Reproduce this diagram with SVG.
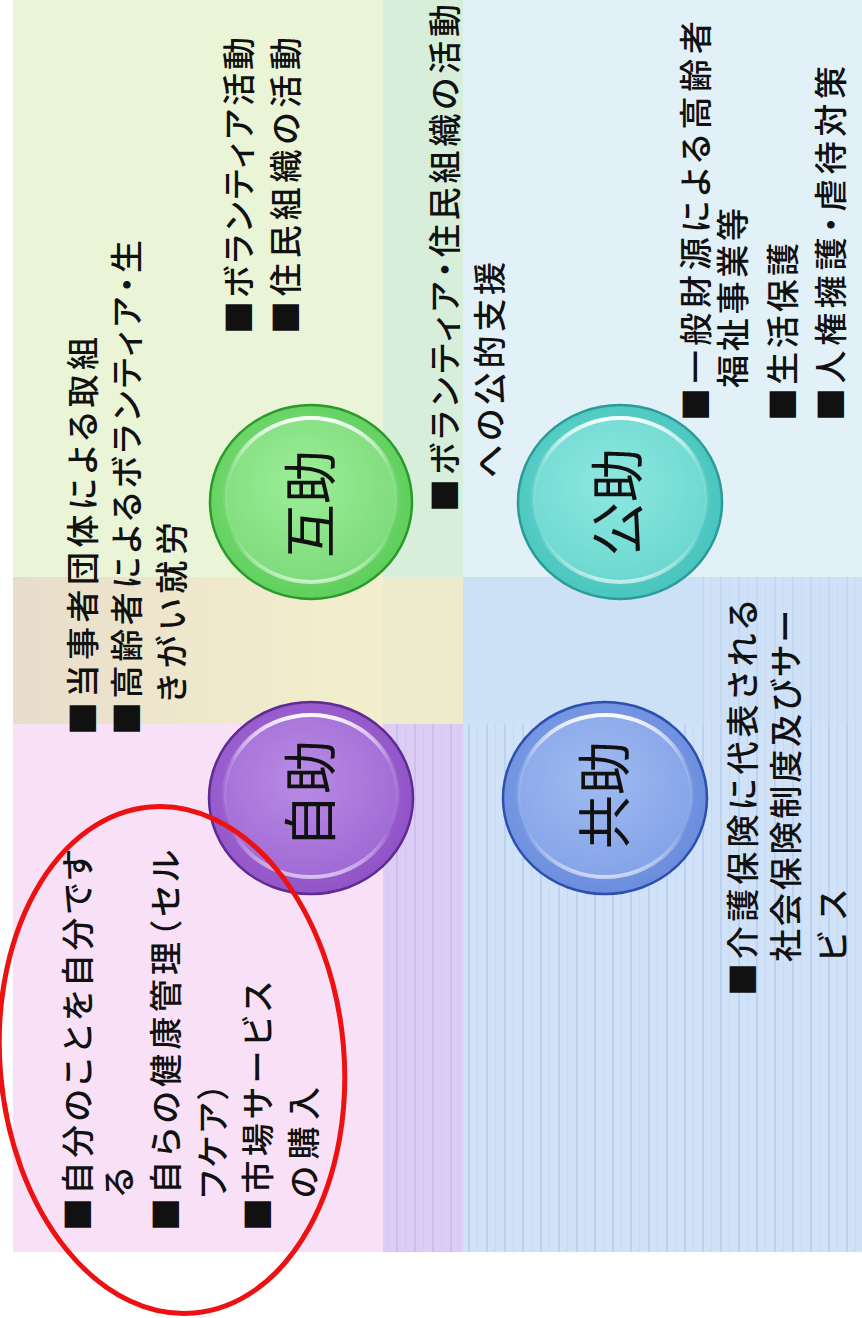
<svg xmlns="http://www.w3.org/2000/svg" width="862" height="1318" viewBox="0 0 862 1318">
<style>
.t{font-family:"Noto Sans CJK JP","Noto Sans CJK SC",sans-serif;font-size:33px;font-weight:500;fill:#111;font-feature-settings:"palt" 1;}
.lbl{font-family:"Noto Sans CJK JP","Noto Sans CJK SC",sans-serif;font-size:54px;fill:#111;text-anchor:middle;dominant-baseline:central;}
.rim{fill:none;stroke:url(#rim);stroke-width:4;}
</style>
<defs>
<pattern id="stripeBlue" width="18" height="10" patternUnits="userSpaceOnUse">
<rect width="18" height="10" fill="#d0e2f8"/>
<rect x="0" width="2" height="10" fill="#bdd2f0"/>
<rect x="9" width="1" height="10" fill="#c7daf4"/>
</pattern>
<pattern id="stripeLav" width="18" height="10" patternUnits="userSpaceOnUse">
<rect width="18" height="10" fill="#dccdf4"/>
<rect x="0" width="2" height="10" fill="#cfbdee"/>
<rect x="9" width="1" height="10" fill="#d6c6f1"/>
</pattern>
<linearGradient id="tan" x1="0" y1="0" x2="1" y2="0">
<stop offset="0" stop-color="#e8dccb"/><stop offset="0.5" stop-color="#efe8cc"/><stop offset="1" stop-color="#f3efcd"/>
</linearGradient>
<linearGradient id="rim" x1="0" y1="0" x2="0" y2="1">
<stop offset="0" stop-color="#fff" stop-opacity="0.95"/><stop offset="0.3" stop-color="#fff" stop-opacity="0.15"/><stop offset="0.7" stop-color="#fff" stop-opacity="0"/><stop offset="1" stop-color="#fff" stop-opacity="0.6"/>
</linearGradient>
<radialGradient id="gO" cx="0.45" cy="0.45" r="0.6"><stop offset="0" stop-color="#8ae586"/><stop offset="1" stop-color="#5ccd59"/></radialGradient>
<radialGradient id="gI" cx="0.45" cy="0.4" r="0.6"><stop offset="0" stop-color="#9cee99"/><stop offset="1" stop-color="#7edb7b"/></radialGradient>
<radialGradient id="pO" cx="0.45" cy="0.45" r="0.6"><stop offset="0" stop-color="#ac74dc"/><stop offset="1" stop-color="#8f52c6"/></radialGradient>
<radialGradient id="pI" cx="0.45" cy="0.4" r="0.6"><stop offset="0" stop-color="#b98ce5"/><stop offset="1" stop-color="#a16ad5"/></radialGradient>
<radialGradient id="cO" cx="0.45" cy="0.45" r="0.6"><stop offset="0" stop-color="#70dbd4"/><stop offset="1" stop-color="#46c4bc"/></radialGradient>
<radialGradient id="cI" cx="0.45" cy="0.4" r="0.6"><stop offset="0" stop-color="#8ee8e1"/><stop offset="1" stop-color="#6cd8d0"/></radialGradient>
<radialGradient id="bO" cx="0.45" cy="0.45" r="0.6"><stop offset="0" stop-color="#89aaeb"/><stop offset="1" stop-color="#6a8bdc"/></radialGradient>
<radialGradient id="bI" cx="0.45" cy="0.4" r="0.6"><stop offset="0" stop-color="#a0bbf1"/><stop offset="1" stop-color="#85a4e8"/></radialGradient>
</defs>

<rect width="862" height="1318" fill="#ffffff"/>

<g id="background">
<rect x="13" y="0" width="370" height="577" fill="#eaf5d8"/>
<rect x="383" y="0" width="80" height="577" fill="#d6eeda"/>
<rect x="463" y="0" width="399" height="577" fill="#e2f0f8"/>
<rect x="13" y="577" width="370" height="147" fill="url(#tan)"/>
<rect x="383" y="577" width="80" height="147" fill="#ecebcc"/>
<rect x="463" y="577" width="399" height="147" fill="#cce0f6"/>
<rect x="700" y="577" width="162" height="147" fill="url(#stripeBlue)" opacity="0.6"/>
<rect x="13" y="724" width="370" height="528" fill="#f8e1f6"/>
<rect x="383" y="724" width="80" height="528" fill="url(#stripeLav)"/>
<rect x="463" y="724" width="399" height="528" fill="url(#stripeBlue)"/>
</g>

<g id="connectors"></g>

<g id="gojo">
<ellipse cx="311" cy="502" rx="101" ry="97" fill="url(#gO)" stroke="#2a9a2a" stroke-width="2.5"/>
<ellipse cx="311" cy="500" rx="86" ry="82" fill="url(#gI)"/>
<ellipse cx="311" cy="500" rx="86" ry="82" class="rim"/>
<text class="lbl" x="307" y="504" transform="rotate(-90 307 504)">互助</text>
<text class="t" x="95" y="735" textLength="398" lengthAdjust="spacing" transform="rotate(-90 95 735)">■当事者団体による取組</text>
<text class="t" x="139" y="735" textLength="495" lengthAdjust="spacing" transform="rotate(-90 139 735)">■高齢者によるボランティア・生</text>
<text class="t" x="184" y="703" textLength="181" lengthAdjust="spacing" transform="rotate(-90 184 703)">きがい就労</text>
<text class="t" x="251" y="334" textLength="297" lengthAdjust="spacing" transform="rotate(-90 251 334)">■ボランティア活動</text>
<text class="t" x="298" y="334" textLength="297" lengthAdjust="spacing" transform="rotate(-90 298 334)">■住民組織の活動</text>
</g>

<g id="kojo">
<ellipse cx="620" cy="502" rx="102" ry="97" fill="url(#cO)" stroke="#2a9c98" stroke-width="2.5"/>
<ellipse cx="620" cy="500" rx="87" ry="82" fill="url(#cI)"/>
<ellipse cx="620" cy="500" rx="87" ry="82" class="rim"/>
<text class="lbl" x="614" y="502" transform="rotate(-90 614 502)">公助</text>
<text class="t" x="457" y="512" textLength="508" lengthAdjust="spacing" transform="rotate(-90 457 512)">■ボランティア・住民組織の活動</text>
<text class="t" x="502" y="478" textLength="216" lengthAdjust="spacing" transform="rotate(-90 502 478)">への公的支援</text>
<text class="t" x="708" y="421" textLength="400" lengthAdjust="spacing" transform="rotate(-90 708 421)">■一般財源による高齢者</text>
<text class="t" x="745" y="388" textLength="180" lengthAdjust="spacing" transform="rotate(-90 745 388)">福祉事業等</text>
<text class="t" x="795" y="421" textLength="178" lengthAdjust="spacing" transform="rotate(-90 795 421)">■生活保護</text>
<text class="t" x="843" y="421" textLength="355" lengthAdjust="spacing" transform="rotate(-90 843 421)">■人権擁護・虐待対策</text>
</g>

<g id="jijo">
<ellipse cx="311" cy="798" rx="102" ry="96" fill="url(#pO)" stroke="#5e2a93" stroke-width="2.5"/>
<ellipse cx="311" cy="796" rx="87" ry="81" fill="url(#pI)"/>
<ellipse cx="311" cy="796" rx="87" ry="81" class="rim"/>
<text class="lbl" x="307" y="794" transform="rotate(-90 307 794)">自助</text>
<text class="t" x="90" y="1231" textLength="381" lengthAdjust="spacing" transform="rotate(-90 90 1231)">■自分のことを自分です</text>
<text class="t" x="131" y="1197" transform="rotate(-90 131 1197)">る</text>
<text class="t" x="178" y="1231" textLength="381" lengthAdjust="spacing" transform="rotate(-90 178 1231)">■自らの健康管理（セル</text>
<text class="t" x="225" y="1198" textLength="115" lengthAdjust="spacing" transform="rotate(-90 225 1198)">フケア）</text>
<text class="t" x="270" y="1231" textLength="249" lengthAdjust="spacing" transform="rotate(-90 270 1231)">■市場サービス</text>
<text class="t" x="316" y="1198" textLength="111" lengthAdjust="spacing" transform="rotate(-90 316 1198)">の購入</text>
</g>

<g id="kyojo">
<ellipse cx="605" cy="798" rx="102" ry="96" fill="url(#bO)" stroke="#2d4fae" stroke-width="2.5"/>
<ellipse cx="605" cy="796" rx="87" ry="81" fill="url(#bI)"/>
<ellipse cx="605" cy="796" rx="87" ry="81" class="rim"/>
<text class="lbl" x="601" y="795" transform="rotate(-90 601 795)">共助</text>
<text class="t" x="755" y="996" textLength="396" lengthAdjust="spacing" transform="rotate(-90 755 996)">■介護保険に代表される</text>
<text class="t" x="798" y="962" textLength="352" lengthAdjust="spacing" transform="rotate(-90 798 962)">社会保険制度及びサー</text>
<text class="t" x="845" y="962" textLength="72" lengthAdjust="spacing" transform="rotate(-90 845 962)">ビス</text>
</g>

<g id="annotation">
<ellipse cx="172" cy="1060" rx="172" ry="254" transform="rotate(-5 172 1060)" fill="none" stroke="#ee1111" stroke-width="5"/>
</g>
</svg>
